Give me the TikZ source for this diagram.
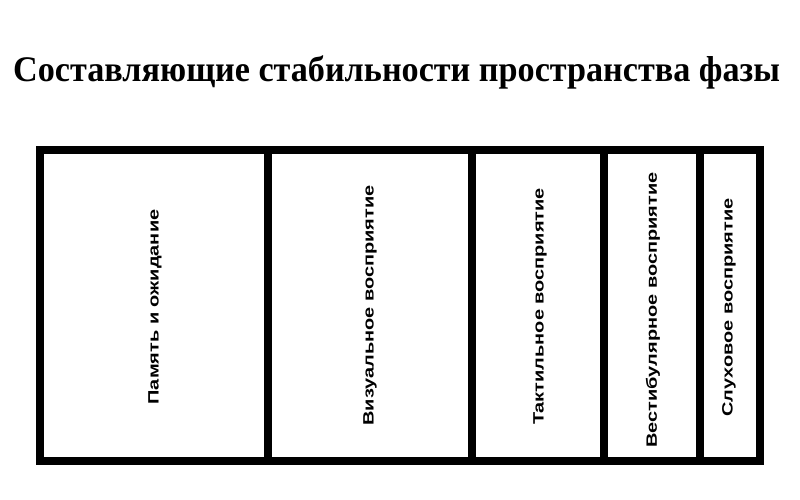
\documentclass[tikz,border=0pt]{standalone}
\usepackage{fontspec}
\setmainfont{Liberation Serif}
\setsansfont{Liberation Sans}
\usetikzlibrary{positioning}

\tikzset{
  frame/.style={line width=8pt, line cap=rect},
  partlabel/.style={rotate=90, font=\sffamily\bfseries\fontsize{15}{15}\selectfont, inner sep=0pt},
  headline/.style={font=\bfseries\fontsize{36}{36}\selectfont, inner sep=0pt}
}
\newcommand{\stretchlabel}[1]{\scalebox{1.33}[1]{#1}}

\begin{document}
\begin{tikzpicture}[x=1pt, y=-1pt]
\useasboundingbox (0,0) rectangle (800,500);

% heading
\node[headline, anchor=base west] (title) at (13,81.5) {\resizebox{767pt}{\height}{Составляющие стабильности пространства фазы}};

% outer frame
\coordinate (tl) at (40,150);
\coordinate (br) at (759.5,461);
\draw[frame] (tl) rectangle (br);

% dividers
\foreach \x/\name in {268/a, 472/b, 604/c, 700/d} {
  \coordinate (top\name) at (\x,150);
  \coordinate (bot\name) at (\x,461);
  \draw[line width=8pt] (top\name) -- (bot\name);
}

% labels
\node[partlabel] (memory) at (155,307) {\stretchlabel{Память и ожидание}};
\node[partlabel] (visual) at (370,305.5) {\stretchlabel{Визуальное восприятие}};
\node[partlabel] (tactile) at (540,306.5) {\stretchlabel{Тактильное восприятие}};
\node[partlabel] (vestib) at (653,310) {\stretchlabel{Вестибулярное восприятие}};
\node[partlabel] (hearing) at (729,307.5) {\stretchlabel{Слуховое восприятие}};

\end{tikzpicture}
\end{document}
